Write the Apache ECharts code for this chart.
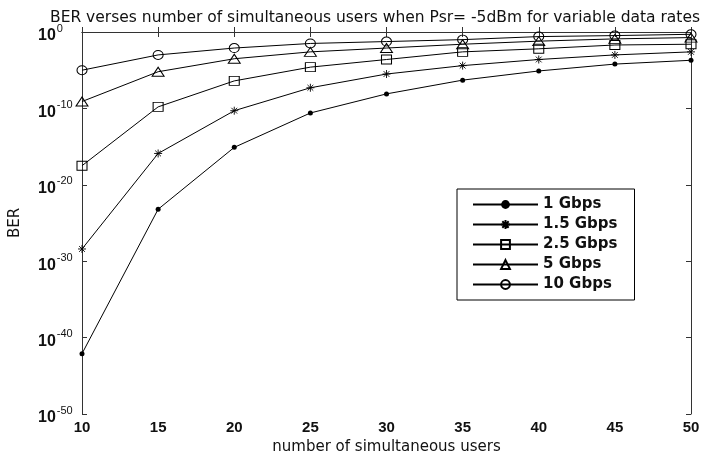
<!DOCTYPE html>
<html>
<head>
<meta charset="utf-8">
<script src="https://cdn.jsdelivr.net/npm/echarts@6/dist/echarts.min.js"></script>
<style>
  html, body { margin: 0; padding: 0; background: #fff; }
  #chart { width: 719px; height: 460px; }
</style>
</head>
<body>
<div id="chart"></div>
<script>
// Number of simultaneous users
const users = [10, 15, 20, 25, 30, 35, 40, 45, 50];

// BER as log10 exponents (the y axis is plotted in decades), one list per data rate
const logBer1G   = [-42.1, -23.2, -15.1, -10.6, -8.1, -6.3, -5.1, -4.2, -3.7];
const logBer1_5G = [-28.4, -15.9, -10.3, -7.3, -5.5, -4.4, -3.6, -3.0, -2.6];
const logBer2_5G = [-17.5, -9.8, -6.4, -4.6, -3.6, -2.6, -2.2, -1.7, -1.6];
const logBer5G   = [-9.1, -5.2, -3.5, -2.6, -2.1, -1.6, -1.2, -0.9, -0.73];
const logBer10G  = [-5.0, -3.0, -2.1, -1.5, -1.25, -1.0, -0.6, -0.47, -0.3];

const seriesNames = ['1 Gbps', '1.5 Gbps', '2.5 Gbps', '5 Gbps', '10 Gbps'];

// Decade exponents for y tick labels (10^0 ... 10^-50)
const yExpMin = -50;
const yExpMax = 0;

const ASTERISK = 'path://M0,-5L0,5M-5,0L5,0M-3.6,-3.6L3.6,3.6M-3.6,3.6L3.6,-3.6';

function toPairs(logVals) {
  return users.map((u, i) => [u, logVals[i]]);
}

const markerStyles = [
  { symbol: 'circle', symbolSize: 5, itemStyle: { color: '#000', borderColor: '#000', borderWidth: 0 } },
  { symbol: ASTERISK, symbolSize: 8, itemStyle: { color: 'rgba(0,0,0,0)', borderColor: '#000', borderWidth: 0.9 } },
  { symbol: 'rect', symbolSize: [10, 9], itemStyle: { color: 'rgba(0,0,0,0)', borderColor: '#000', borderWidth: 1 } },
  { symbol: 'triangle', symbolSize: [12, 9], itemStyle: { color: 'rgba(0,0,0,0)', borderColor: '#000', borderWidth: 1 } },
  { symbol: 'circle', symbolSize: [10, 9], itemStyle: { color: 'rgba(0,0,0,0)', borderColor: '#000', borderWidth: 1 } }
];

const allData = [logBer1G, logBer1_5G, logBer2_5G, logBer5G, logBer10G];

const series = allData.map((vals, i) => Object.assign({
  name: seriesNames[i],
  type: 'line',
  data: toPairs(vals),
  showAllSymbol: true,
  animation: false,
  lineStyle: { color: '#000', width: 1 },
  emphasis: { disabled: true }
}, markerStyles[i]));

const axisLineStyle = { lineStyle: { color: '#333', width: 1 } };
const axisTickStyle = { inside: true, length: 5, lineStyle: { color: '#333' } };

function expLabel(v) {
  return '{b|10}{s|' + Math.round(v) + '}';
}

const option = {
  backgroundColor: '#fff',
  animation: false,
  title: {
    text: 'BER verses number of simultaneous users when Psr= -5dBm for variable data rates',
    left: 45,
    top: 5,
    textStyle: { fontFamily: 'DejaVu Sans', fontWeight: 'normal', fontSize: 15.5, color: '#111' }
  },
  legend: {
    orient: 'vertical',
    left: 457,
    top: 189,
    padding: [8, 17, 8, 15],
    itemWidth: 65,
    itemHeight: 11,
    itemGap: 5,
    borderColor: '#000',
    borderWidth: 1,
    backgroundColor: '#fff',
    data: seriesNames,
    textStyle: { fontFamily: 'DejaVu Sans', fontWeight: 'bold', fontSize: 15, color: '#111' }
  },
  grid: { left: 82, right: 28, top: 32, bottom: 43 },
  xAxis: [
    {
      type: 'value',
      min: 10, max: 50, interval: 5,
      name: 'number of simultaneous users',
      nameLocation: 'middle',
      nameGap: 26,
      nameTextStyle: { fontFamily: 'DejaVu Sans', fontSize: 15, color: '#111' },
      axisLine: axisLineStyle,
      axisTick: axisTickStyle,
      axisLabel: { margin: 6, fontFamily: 'Liberation Sans', fontWeight: 'bold', fontSize: 15, color: '#111' },
      splitLine: { show: false }
    },
    {
      type: 'value',
      position: 'top',
      min: 10, max: 50, interval: 5,
      axisLine: axisLineStyle,
      axisTick: axisTickStyle,
      axisLabel: { show: false },
      splitLine: { show: false }
    }
  ],
  yAxis: [
    {
      type: 'value',
      min: yExpMin, max: yExpMax,
      interval: 10,
      name: 'BER',
      nameLocation: 'middle',
      nameGap: 59,
      nameRotate: 90,
      nameTextStyle: { fontFamily: 'DejaVu Sans', fontSize: 15, color: '#111' },
      axisLine: axisLineStyle,
      axisTick: axisTickStyle,
      axisLabel: {
        align: 'left',
        margin: 44,
        padding: [8, 0, 0, 0],
        formatter: expLabel,
        rich: {
          b: { fontFamily: 'Liberation Sans', fontWeight: 'bold', fontSize: 16, color: '#111', lineHeight: 16, verticalAlign: 'bottom' },
          s: { fontFamily: 'Liberation Sans', fontSize: 11, color: '#111', lineHeight: 16, padding: [0, 0, 10, 1], verticalAlign: 'bottom' }
        }
      },
      splitLine: { show: false }
    },
    {
      type: 'value',
      min: yExpMin, max: yExpMax,
      interval: 10,
      position: 'right',
      axisLine: axisLineStyle,
      axisTick: axisTickStyle,
      axisLabel: { show: false },
      splitLine: { show: false }
    }
  ],
  series: series
};

const chart = echarts.init(document.getElementById('chart'), null, { renderer: 'canvas' });
chart.setOption(option);
</script>
</body>
</html>
